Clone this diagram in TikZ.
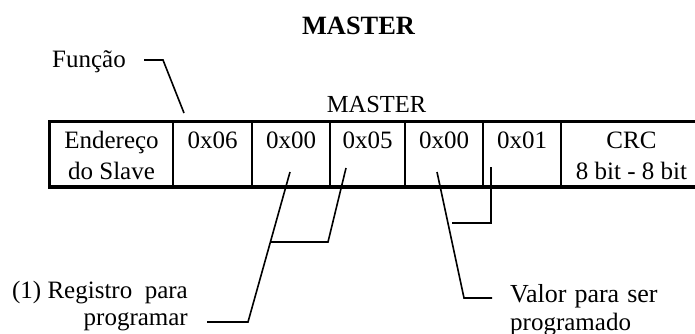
\documentclass[tikz,border=0pt]{standalone}
\usepackage{fontspec}
\setmainfont{Liberation Serif}
\begin{document}
\begin{tikzpicture}[x=1pt,y=-1pt,
  txt/.style={font=\fontsize{25}{30}\selectfont, inner sep=0pt, anchor=base},
  cell/.style={draw, line width=1.5pt, minimum height=64pt, inner sep=0pt},
  conn/.style={line width=1.6pt}]
\clip (0,0) rectangle (695,334);
% title
\node[txt, font=\fontsize{26.4}{30}\selectfont\bfseries] (title) at (358.5,35) {MASTER};
\node[txt, font=\fontsize{24.5}{30}\selectfont] (head) at (376.5,113) {MASTER};
% cells
\node[cell, minimum width=123pt] (c1) at (111.5,154) {};
\node[cell, minimum width=79pt] (c2) at (212.5,154) {};
\node[cell, minimum width=78pt] (c3) at (291,154) {};
\node[cell, minimum width=75pt] (c4) at (367.5,154) {};
\node[cell, minimum width=78pt] (c5) at (444,154) {};
\node[cell, minimum width=78pt] (c6) at (522,154) {};
\node[cell, minimum width=141pt] (c7) at (631.5,154) {};
\draw[line width=3.5pt] (c1.north west) rectangle (c7.south east);
% cell texts
\node[txt] (t1a) at (111.5,148) {Endereço};
\node[txt] (t1b) at (111.5,179) {do Slave};
\node[txt] (t2) at (212.5,148) {0x06};
\node[txt] (t3) at (291,148) {0x00};
\node[txt] (t4) at (367.5,148) {0x05};
\node[txt] (t5) at (444,148) {0x00};
\node[txt] (t6) at (522,148) {0x01};
\node[txt] (t7a) at (631.5,148) {CRC};
\node[txt] (t7b) at (631.5,179) {8 bit - 8 bit};
% labels
\node[txt, anchor=base west] (func) at (52,68) {Função};
\node[txt, anchor=base east] (reg1) at (188,298) {(1) Registro\ \ para};
\node[txt, anchor=base east] (reg2) at (188,325) {programar};
\node[txt, anchor=base west, font=\fontsize{26}{30}\selectfont] (val1) at (510,302) {Valor\hspace{8pt}para\hspace{8pt}ser};
\node[txt, anchor=base west] (val2) at (510,330) {programado};
% connectors
\coordinate (f0) at (144,60); \coordinate (f1) at (163,60); \coordinate (f2) at (184,113);
\draw[conn] (f0) -- (f1) -- (f2);
\coordinate (r0) at (290,172); \coordinate (r1) at (248,322); \coordinate (r2) at (207,322);
\draw[conn] (r0) -- (r1) -- (r2);
\coordinate (b0) at (346,168); \coordinate (b1) at (328,242); \coordinate (b2) at (271,242);
\draw[conn] (b0) -- (b1) -- (b2);
\coordinate (v0) at (437,172); \coordinate (v1) at (464,298); \coordinate (v2) at (492,298);
\draw[conn] (v0) -- (v1) -- (v2);
\coordinate (w0) at (491,167); \coordinate (w1) at (491,223); \coordinate (w2) at (452,223);
\draw[conn] (w0) -- (w1) -- (w2);
\end{tikzpicture}
\end{document}
